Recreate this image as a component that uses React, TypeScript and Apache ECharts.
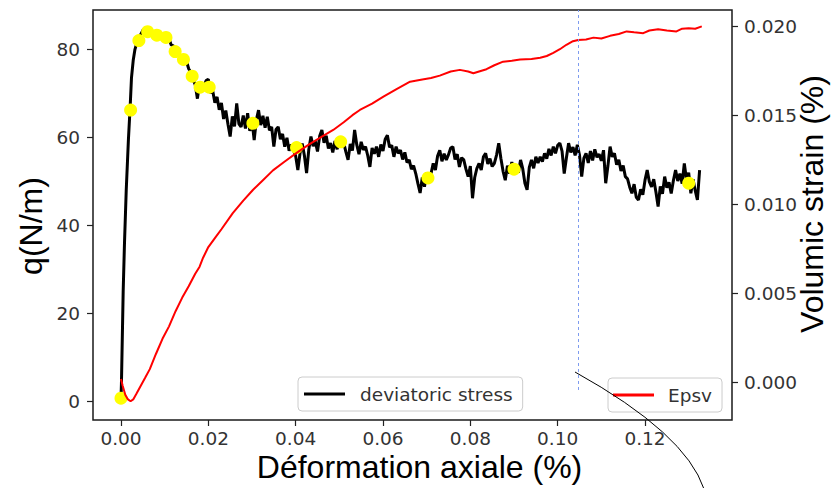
import React, { useEffect, useRef } from "react";
import * as echarts from "echarts";

// ---- axis ticks ----
const X_TICKS = [0, 0.02, 0.04, 0.06, 0.08, 0.1, 0.12];
const Q_TICKS = [0, 20, 40, 60, 80];
const EPSV_TICKS = [0, 0.005, 0.01, 0.015, 0.02];

// ---- deviatoric stress: initial rise ----
const RISE_STRAIN = [0, 0.0001, 0.0005, 0.0008, 0.0012, 0.0017, 0.0021, 0.0024, 0.0028, 0.0032, 0.0038, 0.0043, 0.005, 0.0055];
const RISE_Q = [0.8, 4, 25, 36, 48, 59.5, 67, 73.5, 77.5, 80, 82, 83, 84.3, 84.8];

// ---- deviatoric stress: noisy part, sampled every 0.0005 from 0.006 ----
const NOISY_START = 0.006;
const NOISY_STEP = 0.0005;
const NOISY_Q = [
  84.6, 83.8, 84.3, 83.2, 83.9, 82.9, 83.5, 82.6, 83.2, 82.3,
  82.4, 81.0, 80.8, 79.5, 79.8, 78.2, 78.4, 76.9, 77.3, 75.6,
  74.8, 73.1, 72.0, 68.8, 72.4, 70.5, 71.6, 72.9, 73.2, 70.1,
  70.6, 67.9, 69.2, 66.3, 67.8, 64.2, 66.1, 63.0, 60.2, 64.8,
  62.5, 67.7, 63.1, 62.4, 65.0, 62.0, 65.5, 61.5, 63.8, 59.4,
  64.0, 66.2, 62.8, 64.9, 62.2, 64.7, 61.6, 62.4, 57.9, 61.8,
  62.4, 59.6, 60.8, 57.9, 59.9, 57.0, 58.4, 57.1, 55.8, 52.6,
  56.4, 58.6, 55.9, 51.9, 57.2, 60.2, 58.0, 59.1, 56.8, 60.3,
  61.7, 58.8, 60.4, 57.5, 58.7, 56.6, 59.2, 57.3, 60.0, 57.9,
  58.8, 56.7, 54.9, 58.5, 57.0, 61.7, 58.3, 56.2, 59.0, 57.2,
  57.9, 55.9, 53.3, 57.6, 56.3, 57.9, 55.6, 58.4, 56.9, 59.6,
  60.5, 57.8, 58.2, 55.6, 57.9, 56.4, 57.1, 55.0, 56.6, 54.3,
  54.9, 52.8, 53.6, 51.8, 49.5, 47.4, 50.9, 48.8, 52.1, 50.0,
  51.8, 54.1, 52.6, 55.8, 57.1, 54.6, 56.3, 54.9, 56.1, 57.6,
  57.9, 55.0, 56.2, 53.3, 55.4, 54.9, 52.8, 51.1, 53.5, 46.2,
  50.9, 53.0, 54.1, 52.6, 55.6, 56.4, 54.0, 55.2, 53.4, 54.1,
  56.0, 58.7, 55.2, 52.3, 50.3, 53.6, 51.8, 54.4, 52.6, 53.8,
  52.0, 54.9, 52.9, 49.6, 48.1, 53.2, 54.9, 53.0, 55.6, 54.2,
  55.6, 54.5, 56.4, 55.2, 57.4, 55.9, 57.9, 56.4, 58.2, 58.7,
  56.9, 51.8, 55.4, 58.7, 56.6, 57.8, 55.9, 58.3, 56.0, 51.1,
  55.3, 56.4, 54.2, 56.9, 54.8, 57.3, 55.5, 56.2, 54.7, 57.1,
  49.6, 53.5, 57.9, 55.6, 56.4, 53.8, 54.9, 52.4, 53.6, 51.1,
  50.6, 48.7, 47.3, 49.4, 46.4, 45.8, 48.2, 47.0, 50.3, 52.6,
  49.9, 48.8, 50.5, 47.6, 44.3, 48.9, 47.2, 51.1, 48.6, 49.8,
  47.3, 50.2, 52.6, 50.1, 51.8, 49.5, 54.1, 50.4, 52.0, 47.3,
  50.5, 47.9, 45.8, 52.6,
];

// ---- yellow markers ----
const MARK_STRAIN = [0, 0.0022, 0.0041, 0.0061, 0.0082, 0.0103, 0.0124, 0.0143, 0.0163, 0.0181, 0.0202, 0.0302, 0.0402, 0.0503, 0.0703, 0.09, 0.13];
const MARK_Q = [0.8, 66.2, 82, 84, 83.2, 82.7, 79.5, 77.7, 73.9, 71.4, 71.4, 63.2, 57.7, 59.0, 50.8, 52.8, 49.6];

// ---- volumic strain ----
const EPSV_STRAIN = [
  0, 0.0004, 0.001, 0.0016, 0.0022, 0.0028, 0.0035, 0.0045, 0.0055, 0.0066,
  0.008, 0.0095, 0.011, 0.0125, 0.014, 0.0155, 0.017, 0.018, 0.0188, 0.02,
  0.0215, 0.023, 0.0256, 0.028, 0.0302, 0.0325, 0.0348, 0.0375, 0.0403, 0.043,
  0.046, 0.0486, 0.051, 0.053, 0.0547, 0.0575, 0.0601, 0.063, 0.0662, 0.069,
  0.071, 0.073, 0.0755, 0.0776, 0.0795, 0.0807, 0.082, 0.0837, 0.0855, 0.0875,
  0.0895, 0.0914, 0.094, 0.096, 0.0975, 0.099, 0.1005, 0.102, 0.1035, 0.1047,
  0.1065, 0.1082, 0.11, 0.112, 0.114, 0.1158, 0.1175, 0.1196, 0.121, 0.123,
  0.125, 0.1272, 0.1285, 0.13, 0.1315, 0.133,
];
const EPSV = [
  0.0002, -0.0002, -0.0007, -0.00095, -0.00105, -0.00095, -0.00065, -0.0002, 0.00025, 0.00075,
  0.0016, 0.00245, 0.00315, 0.004, 0.00475, 0.0054, 0.0061, 0.0065, 0.007, 0.0076,
  0.0081, 0.0086, 0.0095, 0.0102, 0.0108, 0.01135, 0.0119, 0.0124, 0.0129, 0.01335,
  0.0138, 0.01417, 0.0146, 0.015, 0.01529, 0.01565, 0.01604, 0.01645, 0.01688, 0.017,
  0.01708, 0.01722, 0.01745, 0.01754, 0.01745, 0.01735, 0.01745, 0.01758, 0.0178, 0.018,
  0.01805, 0.01812, 0.01815, 0.01822, 0.01832, 0.0185, 0.0187, 0.01895, 0.01915, 0.01922,
  0.01925, 0.01935, 0.0193, 0.01945, 0.01955, 0.0197, 0.01965, 0.0196, 0.01975, 0.01982,
  0.01975, 0.0197, 0.01985, 0.01988, 0.01985, 0.01998,
];

// ---- dotted vertical marker ----
const VLINE_STRAIN = 0.1047;
const VLINE_FROM = -0.00042;

const X_MIN = -0.00641;
const X_MAX = 0.13992;
const Q_MIN = -4.15;
const Q_MAX = 88.93;
const E_MIN = -0.002104;
const E_MAX = 0.0209;

const TICK_FONT = "DejaVu Sans";
const NAME_FONT = "Liberation Sans";

export default function App() {
  const ref = useRef<HTMLDivElement>(null);
  useEffect(() => {
    document.body.style.margin = "0";
    const chart = echarts.init(ref.current!, null, { renderer: "svg" });

    const stress: number[][] = RISE_STRAIN.map((x, i) => [x, RISE_Q[i]]);
    NOISY_Q.forEach((q, i) => stress.push([NOISY_START + i * NOISY_STEP, q]));
    const marks = MARK_STRAIN.map((x, i) => [x, MARK_Q[i]]);
    const epsv = EPSV_STRAIN.map((x, i) => [x, EPSV[i]]);

    const tickLabel = {
      fontSize: 18.5,
      fontFamily: TICK_FONT,
      color: "#333",
    };
    const nameStyle = {
      fontSize: 32,
      fontFamily: NAME_FONT,
      color: "#000",
    };
    const tick = { show: true, length: 6, lineStyle: { color: "#222", width: 1.2 } };

    chart.setOption({
      animation: false,
      grid: {
        left: 93,
        right: 106,
        top: 10,
        bottom: 68,
        show: true,
        borderColor: "#1a1a1a",
        borderWidth: 1.5,
        backgroundColor: "#fff",
        outerBoundsMode: "none",
        containLabel: false,
      },
      xAxis: {
        type: "value",
        min: X_MIN,
        max: X_MAX,
        axisLine: { show: false, onZero: false },
        splitLine: { show: false },
        axisTick: { ...tick, customValues: X_TICKS },
        axisLabel: {
          ...tickLabel,
          customValues: X_TICKS,
          margin: 9,
          formatter: (v: number) => v.toFixed(2),
        },
        name: "Déformation axiale (%)",
        nameLocation: "middle",
        nameGap: 31,
        nameMoveOverlap: false,
        nameTextStyle: { ...nameStyle, padding: [0, 0, 0, 14] },
      },
      yAxis: [
        {
          type: "value",
          min: Q_MIN,
          max: Q_MAX,
          position: "left",
          axisLine: { show: false, onZero: false },
          splitLine: { show: false },
          axisTick: { ...tick, customValues: Q_TICKS },
          axisLabel: {
            ...tickLabel,
            customValues: Q_TICKS,
            margin: 13,
            formatter: (v: number) => String(Math.round(v)),
          },
          name: "q(N/m)",
          nameLocation: "middle",
          nameGap: 46,
          nameRotate: 90,
          nameMoveOverlap: false,
          nameTextStyle: { ...nameStyle, padding: [0, 22, 0, 0] },
        },
        {
          type: "value",
          min: E_MIN,
          max: E_MAX,
          position: "right",
          axisLine: { show: false, onZero: false },
          splitLine: { show: false },
          axisTick: { ...tick, customValues: EPSV_TICKS },
          axisLabel: {
            ...tickLabel,
            customValues: EPSV_TICKS,
            margin: 12,
            formatter: (v: number) => v.toFixed(3),
          },
          name: "Volumic strain (%)",
          nameLocation: "middle",
          nameGap: 64,
          nameRotate: 90,
          nameMoveOverlap: false,
          nameTextStyle: { ...nameStyle, padding: [0, 0, 0, 22] },
        },
      ],
      legend: [
        {
          data: ["deviatoric stress"],
          left: 298,
          top: 377,
          icon: "rect",
          itemWidth: 41,
          itemHeight: 3,
          padding: [7, 10, 7, 6],
          backgroundColor: "rgba(255,255,255,0.8)",
          borderColor: "#cccccc",
          borderWidth: 1,
          borderRadius: 4,
          selectedMode: false,
          textStyle: { ...tickLabel, lineHeight: 20, padding: [0, 0, 0, 10] },
        },
        {
          data: ["Epsv"],
          left: 608,
          top: 378,
          icon: "rect",
          itemWidth: 41,
          itemHeight: 3,
          padding: [7, 10, 7, 5],
          backgroundColor: "rgba(255,255,255,0.8)",
          borderColor: "#cccccc",
          borderWidth: 1,
          borderRadius: 4,
          selectedMode: false,
          textStyle: { ...tickLabel, lineHeight: 20, padding: [0, 0, 0, 9] },
        },
      ],
      series: [
        {
          name: "deviatoric stress",
          type: "line",
          xAxisIndex: 0,
          yAxisIndex: 0,
          data: stress,
          showSymbol: false,
          symbol: "none",
          color: "#000",
          lineStyle: { color: "#000", width: 3 },
          z: 2,
        },
        {
          name: "points",
          type: "scatter",
          xAxisIndex: 0,
          yAxisIndex: 0,
          data: marks,
          symbolSize: 13,
          itemStyle: { color: "#ffff00", opacity: 1 },
          z: 3,
        },
        {
          name: "Epsv",
          type: "line",
          xAxisIndex: 0,
          yAxisIndex: 1,
          data: epsv,
          showSymbol: false,
          symbol: "none",
          color: "#ff0000",
          lineStyle: { color: "#ff0000", width: 2 },
          z: 4,
          markLine: {
            silent: true,
            symbol: ["none", "none"],
            label: { show: false },
            lineStyle: { color: "#7d9bef", width: 1, type: [3, 3] },
            data: [[{ coord: [VLINE_STRAIN, VLINE_FROM] }, { coord: [VLINE_STRAIN, E_MAX] }]],
          },
        },
      ],
      graphic: [
        {
          type: "bezierCurve",
          z: 100,
          shape: { x1: 575, y1: 372, x2: 704, y2: 489, cpx1: 685.5, cpy1: 433.4 },
          style: { stroke: "#000", lineWidth: 1, fill: "none" },
        },
      ],
    });
    return () => chart.dispose();
  }, []);
  return <div ref={ref} style={{ width: 838, height: 488 }} />;
}
